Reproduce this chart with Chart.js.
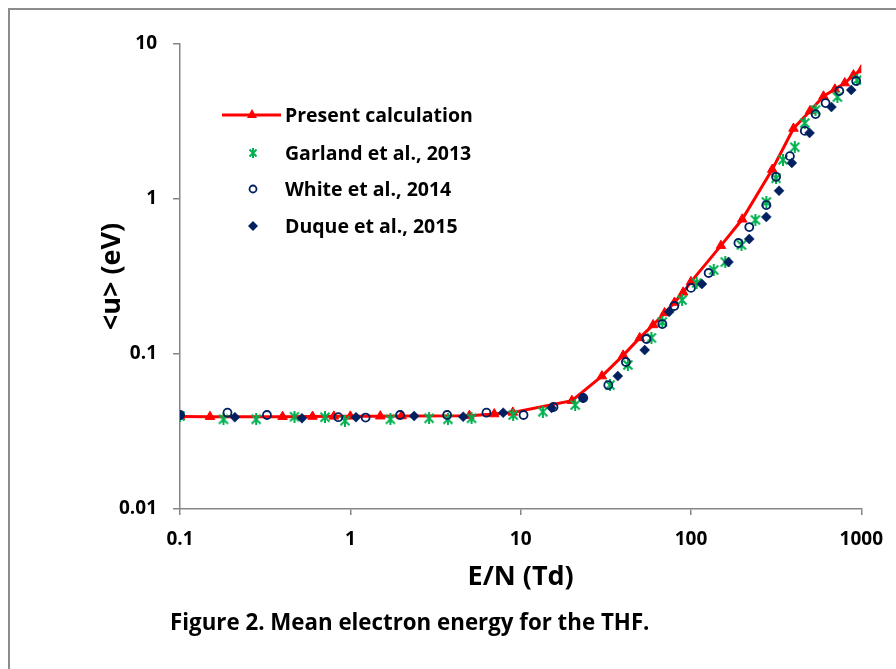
<!DOCTYPE html>
<html><head><meta charset="utf-8">
<script src="https://cdn.jsdelivr.net/npm/chart.js@4/dist/chart.umd.min.js"></script>
<style>
html,body{margin:0;padding:0;background:#fff;}
#wrap{position:relative;width:896px;height:669px;overflow:hidden;background:#fff;}
#frame{position:absolute;left:8px;top:8px;width:1000px;height:1000px;border-left:2px solid #8c8c8c;border-top:2px solid #8c8c8c;}
#c{position:absolute;left:0;top:0;}
#caption{position:absolute;left:170px;top:607px;font-family:'Open Sans',Lato,sans-serif;font-weight:bold;font-size:22.3px;line-height:30px;color:#000;white-space:nowrap;}
</style></head>
<body>
<div id="wrap">
<div id="frame"></div>
<canvas id="c" width="896" height="669"></canvas>
<div id="caption">Figure 2. Mean electron energy for the THF.</div>
</div>
<script>
// ---- data ----
const presentX = [0.1, 0.15, 0.4, 0.6, 0.8, 1, 1.5, 2, 5, 7, 9, 20, 30, 40, 50, 60, 70, 80, 90, 100, 150, 200, 300, 400, 500, 600, 700, 800, 900, 1000];
const presentY = [0.0395, 0.0394, 0.0394, 0.0395, 0.0396, 0.0396, 0.0397, 0.0398, 0.0400, 0.0410, 0.0420, 0.0500, 0.0720, 0.0980, 0.127, 0.154, 0.184, 0.215, 0.250, 0.292, 0.50, 0.74, 1.55, 2.85, 3.70, 4.60, 5.10, 5.60, 6.30, 6.80];

const garlandX = [0.1, 0.18, 0.28, 0.47, 0.71, 0.93, 1.72, 2.9, 3.74, 5.15, 9.04, 13.5, 20.9, 33.5, 42.6, 58.6, 67.9, 88.7, 108, 136, 159, 198, 239, 277, 316, 347, 407, 466, 539, 724, 946];
const garlandY = [0.0398, 0.0379, 0.0379, 0.0394, 0.0391, 0.0371, 0.0379, 0.0385, 0.0379, 0.0385, 0.0404, 0.0424, 0.0469, 0.063, 0.085, 0.127, 0.161, 0.223, 0.287, 0.348, 0.392, 0.505, 0.733, 0.957, 1.36, 1.79, 2.16, 3.09, 3.75, 4.55, 5.86];

const whiteX = [0.1, 0.19, 0.324, 0.85, 1.23, 1.96, 3.7, 6.3, 10.4, 15.6, 23.3, 32.7, 41.5, 54.8, 67.9, 79.8, 100, 127, 190, 220, 277, 316, 381, 466, 539, 617, 743, 933];
const whiteY = [0.0404, 0.0418, 0.0404, 0.0391, 0.0389, 0.0404, 0.0404, 0.0418, 0.0404, 0.0455, 0.052, 0.063, 0.0888, 0.125, 0.156, 0.204, 0.267, 0.333, 0.52, 0.659, 0.914, 1.39, 1.89, 2.75, 3.53, 4.16, 4.97, 5.77];

const duqueX = [0.1, 0.21, 0.52, 1.08, 2.37, 4.6, 7.9, 15.2, 23.3, 37.2, 53.5, 74.6, 116, 166, 220, 277, 329, 391, 497, 668, 873];
const duqueY = [0.0404, 0.0391, 0.0385, 0.0391, 0.0398, 0.0394, 0.0418, 0.0449, 0.052, 0.072, 0.106, 0.187, 0.283, 0.392, 0.552, 0.766, 1.13, 1.71, 2.67, 3.92, 5.05];

const xTicks = [0.1, 1, 10, 100, 1000];
const yTicks = [0.01, 0.1, 1, 10];
const seriesNames = ['Present calculation', 'Garland et al., 2013', 'White et al., 2014', 'Duque et al., 2015'];
const xTitle = 'E/N (Td)';
const yTitle = '<u> (eV)';

// ---- styling ----
const RED = '#ff0000', GREEN = '#00b050', NAVY = '#002060', AXIS = '#868686';
const FONT = "'Open Sans', Lato, sans-serif";

function asteriskCanvas(size, lw) {
  const cv = document.createElement('canvas');
  cv.width = size; cv.height = size;
  const g = cv.getContext('2d');
  g.strokeStyle = GREEN; g.lineWidth = lw; g.lineCap = 'butt';
  const m = lw / 2 + 0.5, s = size;
  g.beginPath();
  g.moveTo(m, m); g.lineTo(s - m, s - m);
  g.moveTo(s - m, m); g.lineTo(m, s - m);
  g.moveTo(s / 2, 0); g.lineTo(s / 2, s);
  g.stroke();
  return cv;
}
const asterisk = asteriskCanvas(12, 2);
const asteriskSmall = asteriskCanvas(10, 2);

const zip = (xs, ys) => xs.map((x, i) => ({ x: x, y: ys[i] }));

const legendPlugin = {
  id: 'customLegend',
  afterDraw(chart) {
    const ctx = chart.ctx;
    ctx.save();
    const rows = [115, 153, 189, 226];
    const mx = 253, tx = 285;
    ctx.strokeStyle = RED; ctx.lineWidth = 3;
    ctx.beginPath(); ctx.moveTo(222, rows[0]); ctx.lineTo(281, rows[0]); ctx.stroke();
    ctx.fillStyle = RED;
    ctx.beginPath();
    ctx.moveTo(mx - 1, rows[0] - 6); ctx.lineTo(mx + 4, rows[0] + 3); ctx.lineTo(mx - 6, rows[0] + 3); ctx.closePath(); ctx.fill();
    ctx.drawImage(asteriskSmall, mx - 5, rows[1] - 5);
    ctx.strokeStyle = NAVY; ctx.lineWidth = 1.8;
    ctx.beginPath(); ctx.arc(mx, rows[2], 3.5, 0, Math.PI * 2); ctx.stroke();
    ctx.fillStyle = NAVY;
    ctx.beginPath();
    ctx.moveTo(mx, rows[3] - 5); ctx.lineTo(mx + 5, rows[3]); ctx.lineTo(mx, rows[3] + 5); ctx.lineTo(mx - 5, rows[3]); ctx.closePath(); ctx.fill();
    ctx.fillStyle = '#000';
    ctx.font = 'bold 19.5px ' + FONT;
    ctx.textBaseline = 'middle'; ctx.textAlign = 'left';
    seriesNames.forEach((n, i) => ctx.fillText(n, tx, rows[i] + 1));
    ctx.restore();
  }
};

new Chart(document.getElementById('c'), {
  type: 'scatter',
  data: {
    datasets: [
      { label: seriesNames[0], data: zip(presentX, presentY), showLine: true, borderColor: RED, backgroundColor: RED,
        borderWidth: 3, pointStyle: 'triangle', pointRadius: 5.5, pointBorderWidth: 1, pointBorderColor: RED, pointBackgroundColor: RED, tension: 0, order: 3 },
      { label: seriesNames[1], data: zip(garlandX, garlandY), showLine: false, pointStyle: asterisk, pointRadius: 6, order: 2 },
      { label: seriesNames[2], data: zip(whiteX, whiteY), showLine: false, pointStyle: 'circle', pointRadius: 4, pointBorderWidth: 1.8,
        pointBorderColor: NAVY, pointBackgroundColor: 'rgba(0,0,0,0)', borderColor: NAVY, backgroundColor: 'rgba(0,0,0,0)', order: 1 },
      { label: seriesNames[3], data: zip(duqueX, duqueY), showLine: false, pointStyle: 'rectRot', pointRadius: 5, pointBorderWidth: 0.5,
        pointBorderColor: NAVY, pointBackgroundColor: NAVY, borderColor: NAVY, backgroundColor: NAVY, order: 0 }
    ]
  },
  options: {
    responsive: false, animation: false, devicePixelRatio: 1,
    layout: { padding: { left: 92, right: 29, top: 44, bottom: 71 } },
    plugins: { legend: { display: false }, tooltip: { enabled: false } },
    scales: {
      x: {
        type: 'logarithmic', min: 0.1, max: 1000,
        afterBuildTicks: s => { s.ticks = xTicks.map(v => ({ value: v })); },
        afterFit: s => { s.height = 89; },
        ticks: { callback: v => String(v), color: '#000', font: { family: FONT, size: 19, weight: 'bold' }, padding: 13, maxRotation: 0, autoSkip: false },
        grid: { display: true, drawOnChartArea: false, drawTicks: true, tickLength: 6, color: AXIS, lineWidth: 1.5 },
        border: { display: true, color: AXIS, width: 1.5 },
        title: { display: true, text: xTitle, color: '#000', font: { family: FONT, size: 27, weight: 'bold' } }
      },
      y: {
        type: 'logarithmic', min: 0.01, max: 10,
        afterBuildTicks: s => { s.ticks = yTicks.map(v => ({ value: v })); },
        afterFit: s => { s.width = 88; },
        ticks: { callback: v => String(v), color: '#000', font: { family: FONT, size: 19, weight: 'bold' }, padding: 16, autoSkip: false },
        grid: { display: true, drawOnChartArea: false, drawTicks: true, tickLength: 7, color: AXIS, lineWidth: 1.5 },
        border: { display: true, color: AXIS, width: 1.5 },
        title: { display: true, text: yTitle, color: '#000', font: { family: FONT, size: 27, weight: 'bold' } }
      }
    }
  },
  plugins: [legendPlugin]
});
</script>
</body></html>
